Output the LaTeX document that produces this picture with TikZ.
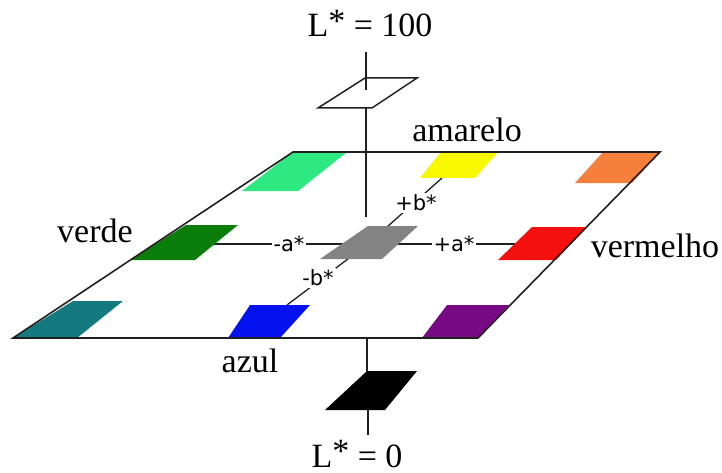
\documentclass[tikz,border=0pt]{standalone}
\usepackage{fontspec}
\setmainfont{Liberation Serif}
\newfontfamily\axisfont{DejaVu Sans}
\usetikzlibrary{positioning}
\definecolor{ink}{HTML}{202020}
\definecolor{mint}{HTML}{2EE882}
\definecolor{lemon}{HTML}{F8F800}
\definecolor{tangerine}{HTML}{F5803C}
\definecolor{leaf}{HTML}{0A7D0A}
\definecolor{neutral}{HTML}{838383}
\definecolor{scarlet}{HTML}{F51010}
\definecolor{teal}{HTML}{157A80}
\definecolor{navy}{HTML}{0512F0}
\definecolor{plum}{HTML}{780A85}
\newcommand{\Lstar}{L\raisebox{0.3ex}{*}}

\begin{document}
\begin{tikzpicture}[x=1pt,y=-1pt,
  plane/.style={draw=ink,line width=1.6pt,line join=miter},
  axis/.style={draw=ink,line width=1.5pt},
  cname/.style={font=\fontsize{34}{40}\selectfont,inner sep=0pt,anchor=base},
  ab/.style={font=\axisfont\fontsize{21}{24}\selectfont,fill=white,inner sep=2pt}]
  \useasboundingbox (0,0) rectangle (722,473);
  % L* axis
  \coordinate (wtop) at (366,52);
  \coordinate (wmid) at (366,90);
  \coordinate (wbot) at (366,108);
  \coordinate (gtop) at (366,217);
  \coordinate (pbot) at (367,338);
  \coordinate (ktop) at (367,371);
  \coordinate (kbot) at (368,410);
  \coordinate (lend) at (368,435);
  \draw[axis] (wtop) -- (wmid);
  \draw[axis] (wbot) -- (gtop);
  \draw[axis] (pbot) -- (ktop);
  \draw[axis] (kbot) -- (lend);
  \draw[axis] (318,108) -- (372,108) -- (417,78) -- (365,78) -- cycle;
  \fill[black] (367,371) -- (417,371) -- (385,410) -- (325,410) -- cycle;
  % a* and b* axes
  \coordinate (gray) at (369,243);
  \coordinate (green) at (190,244);
  \coordinate (red) at (540,244);
  \coordinate (blue) at (287,305);
  \coordinate (yellow) at (442,178);
  \draw[axis,line width=1.3pt] (green) -- (red);
  \draw[axis,line width=1.3pt] (blue) -- (gray) -- (yellow);
  % swatches
  \fill[mint]      (293,152) -- (347,152) -- (298,191) -- (242,191) -- cycle;
  \fill[lemon]     (440,153) -- (497,153) -- (475,178) -- (420,178) -- cycle;
  \fill[tangerine] (603,152) -- (660,152) -- (632,183) -- (575,183) -- cycle;
  \fill[leaf]      (186,225) -- (238,225) -- (195,260) -- (130,260) -- cycle;
  \fill[neutral]   (368,226) -- (418,226) -- (382,259) -- (320,259) -- cycle;
  \fill[scarlet]   (532,227) -- (587,227) -- (556,260) -- (498,260) -- cycle;
  \fill[teal]      (73,301) -- (123,301) -- (77,338) -- (13,338) -- cycle;
  \fill[navy]      (250,305) -- (310,305) -- (280,338) -- (228,338) -- cycle;
  \fill[plum]      (447,305) -- (509,305) -- (478,338) -- (422,338) -- cycle;
  % plane
  \draw[plane] (13,338) -- (478,338) -- (660,152) -- (293,152) -- cycle;
  \node[ab] (mina) at (289,244) {-a*};
  \node[ab] (plusa) at (454,244) {+a*};
  \node[ab] (plusb) at (416,203) {+b*};
  \node[ab] (minb) at (318,278) {-b*};
  % names
  \node[cname] (lhundred) at (370,37) {\Lstar{} = 100};
  \node[cname] (amarelo) at (467,142) {amarelo};
  \node[cname] (verde) at (95,242) {verde};
  \node[cname] (vermelho) at (655,257) {vermelho};
  \node[cname] (azul) at (250,372) {azul};
  \node[cname] (lzero) at (357,467) {\Lstar{} = 0};
\end{tikzpicture}
\end{document}
